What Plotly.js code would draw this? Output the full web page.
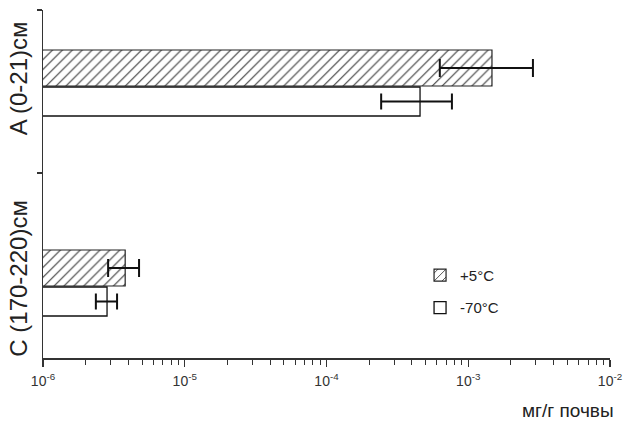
<!DOCTYPE html>
<html>
<head>
<meta charset="utf-8">
<script src="https://cdn.plot.ly/plotly-3.0.1.min.js"></script>
<style>html,body{margin:0;padding:0;background:#fff}#chart{width:629px;height:422px}</style>
</head>
<body>
<div id="chart"></div>
<script>
// Data (mg/g soil)
const categories = ['A (0-21)см', 'C (170-220)см'];
const seriesNames = ['+5°C', '-70°C'];
const warmValues = [1.47e-3, 3.8e-6];
const warmErrPlus = [1.39e-3, 0.96e-6];
const warmErrMinus = [0.84e-3, 0.92e-6];
const coldValues = [4.57e-4, 2.83e-6];
const coldErrPlus = [3.1e-4, 0.5e-6];
const coldErrMinus = [2.14e-4, 0.47e-6];
const xTickVals = [1e-6, 1e-5, 1e-4, 1e-3, 1e-2];
const xTickText = ['10<sup>-6</sup>', '10<sup>-5</sup>', '10<sup>-4</sup>', '10<sup>-3</sup>', '10<sup>-2</sup>'];
const xAxisLabel = 'мг/г почвы';

const catIdx = categories.map((c, i) => i);
const minorX = [];
xTickVals.slice(0, -1).forEach(d => { for (let k = 2; k <= 9; k++) minorX.push(d * k); });

const font = 'Arial, "Liberation Sans", sans-serif';

const cold = {
  type: 'bar', orientation: 'h', name: seriesNames[1],
  x: coldValues, y: catIdx, offset: 0.025, width: 0.145,
  marker: {color: '#ffffff', line: {color: '#111', width: 1.3}},
  error_x: {type: 'data', symmetric: false, array: coldErrPlus, arrayminus: coldErrMinus,
            color: '#111', thickness: 2, width: 8},
  legendrank: 2, legendgroup: 'b'
};
const warm = {
  type: 'bar', orientation: 'h', name: seriesNames[0],
  x: warmValues, y: catIdx, offset: -0.16, width: 0.18,
  marker: {color: '#ffffff', line: {color: '#222', width: 1.2},
           pattern: {shape: '/', fgcolor: '#333', bgcolor: '#ffffff', size: 7, solidity: 0.15}},
  error_x: {type: 'data', symmetric: false, array: warmErrPlus, arrayminus: warmErrMinus,
            color: '#111', thickness: 2, width: 9},
  legendrank: 1, legendgroup: 'a'
};

const layout = {
  width: 629, height: 422,
  margin: {l: 43, r: 19, t: 10, b: 64},
  paper_bgcolor: '#fff', plot_bgcolor: '#fff',
  barmode: 'overlay',
  showlegend: true,
  legend: {x: 0.665, y: 0.285, xanchor: 'left', yanchor: 'top', traceorder: 'grouped',
           font: {family: font, size: 15, color: '#222'}, bgcolor: 'rgba(0,0,0,0)',
           itemwidth: 30, tracegroupgap: 10},
  font: {family: font, color: '#222'},
  xaxis: {
    type: 'log', range: [-6, -2], showgrid: false, zeroline: false,
    showline: true, linecolor: '#333', linewidth: 1.5,
    tickmode: 'array', tickvals: xTickVals, ticktext: xTickText,
    ticks: 'outside', ticklen: 7, tickwidth: 1.2, tickcolor: '#333',
    ticklabelstandoff: 3,
    tickfont: {family: font, size: 14, color: '#333'},
    minor: {tickmode: 'array', tickvals: minorX, ticks: 'outside', ticklen: 5, tickwidth: 1, tickcolor: '#333', showgrid: false}
  },
  yaxis: {
    range: [1.38, -0.36], showgrid: false, zeroline: false,
    showline: true, linecolor: '#333', linewidth: 1.5,
    tickmode: 'array', tickvals: catIdx, ticktext: categories,
    tickangle: -90, ticks: 'outside', ticklen: 0, ticklabelstandoff: 5,
    tickfont: {family: font, size: 24, color: '#222'},
    minor: {tickmode: 'array', tickvals: [-0.36, 0.455], ticks: 'outside', ticklen: 5, tickwidth: 1.2, tickcolor: '#333', showgrid: false}
  },
  annotations: [{
    text: xAxisLabel, xref: 'paper', yref: 'paper', x: 1.01, y: 0, yshift: -52,
    xanchor: 'right', yanchor: 'middle', showarrow: false,
    font: {family: font, size: 19, color: '#222'}
  }]
};

Plotly.newPlot('chart', [cold, warm], layout, {displayModeBar: false, staticPlot: true});
</script>
</body>
</html>
